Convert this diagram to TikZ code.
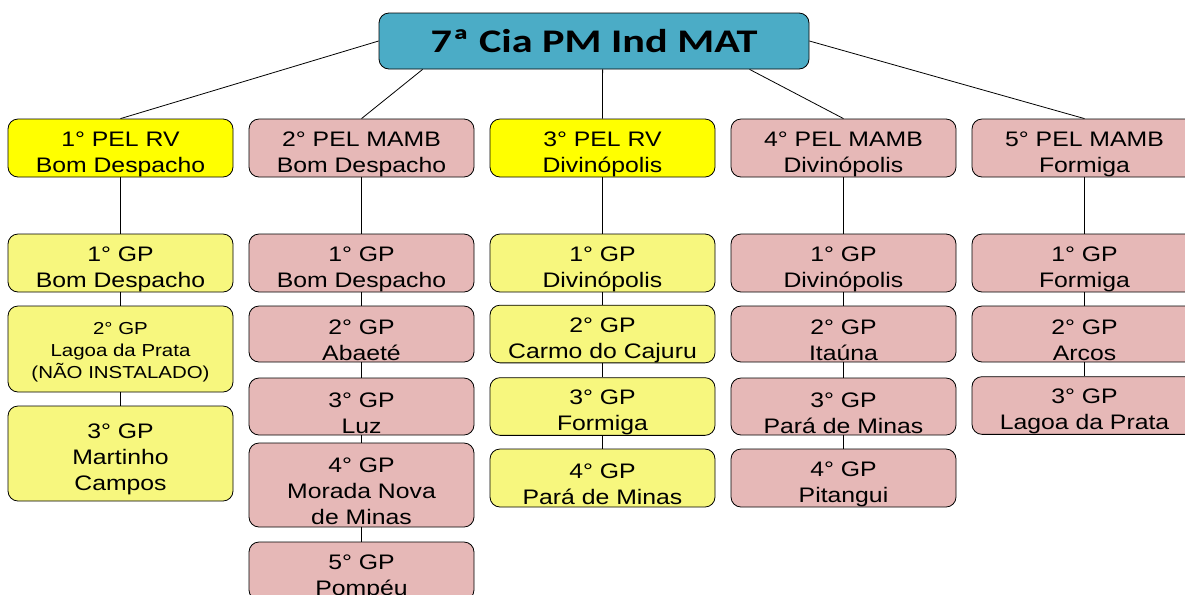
\documentclass[tikz,border=0pt]{standalone}
\usepackage{fontspec}
\usetikzlibrary{calc}
\newfontfamily\arialf[FakeStretch=1.18]{Liberation Sans}
\newfontfamily\titlef[FakeStretch=1.28]{Carlito}
\definecolor{titlec}{HTML}{4BACC6}
\definecolor{pelyel}{HTML}{FFFF00}
\definecolor{gpyel}{HTML}{F7F77E}
\definecolor{pinkc}{HTML}{E6B8B7}
\newcommand\tf{\rule{0pt}{20.5pt}}
\newcommand\tfs{\rule{0pt}{13.5pt}}
\tikzset{
  base/.style={draw=black, line width=0.6pt, rounded corners=7.5pt, minimum width=168.75pt,
    inner sep=0pt, align=center, font=\arialf\fontsize{15.75}{19.5}\selectfont},
  yel/.style={base, fill=pelyel},
  lyel/.style={base, fill=gpyel},
  pnk/.style={base, fill=pinkc},
  small/.style={font=\arialf\fontsize{13}{16.5}\selectfont},
  titlebox/.style={base, fill=titlec, minimum width=322.5pt, minimum height=42pt,
    font=\titlef\bfseries\fontsize{24.75}{28}\selectfont},
  conn/.style={draw=black, line width=0.6pt},
}
\begin{document}
\begin{tikzpicture}[x=0.75pt,y=-0.75pt]
\useasboundingbox (0,0) rectangle (1185,594);
\clip (0,0) rectangle (1185,594);
% top
\node[titlebox] (top) at (594,41) {7ª Cia PM Ind MAT};
% column 1
\node[yel, minimum height=43.5pt] (p1) at (120.5,148) {\tf 1° PEL RV\\Bom Despacho};
\node[lyel, minimum height=43.5pt] (c1g1) at (120.5,263) {\tf 1° GP\\Bom Despacho};
\node[lyel, small, minimum height=64.5pt] (c1g2) at (120.5,349) {\tfs 2° GP\\Lagoa da Prata\\(NÃO INSTALADO)};
\node[lyel, minimum height=71.25pt] (c1g3) at (120.5,453.5) {\tf 3° GP\\Martinho\\Campos};
% column 2
\node[pnk, minimum height=43.5pt] (p2) at (361.5,148) {\tf 2° PEL MAMB\\Bom Despacho};
\node[pnk, minimum height=43.5pt] (c2g1) at (361.5,263) {\tf 1° GP\\Bom Despacho};
\node[pnk, minimum height=42pt] (c2g2) at (361.5,334) {\tf 2° GP\\Abaeté};
\node[pnk, minimum height=42.75pt] (c2g3) at (361.5,406.5) {\tf 3° GP\\Luz};
\node[pnk, minimum height=63pt] (c2g4) at (361.5,485) {\tf 4° GP\\Morada Nova\\de Minas};
\node[pnk, minimum height=43.5pt] (c2g5) at (361.5,571) {\tf 5° GP\\Pompéu};
% column 3
\node[yel, minimum height=43.5pt] (p3) at (602.5,148) {\tf 3° PEL RV\\Divinópolis};
\node[lyel, minimum height=43.5pt] (c3g1) at (602.5,263) {\tf 1° GP\\Divinópolis};
\node[lyel, minimum height=42pt] (c3g2) at (602.5,334) {\tf 2° GP\\Carmo do Cajuru};
\node[lyel, minimum height=42.75pt] (c3g3) at (602.5,406.5) {\tf 3° GP\\Formiga};
\node[lyel, minimum height=43.5pt] (c3g4) at (602.5,478) {\tf 4° GP\\Pará de Minas};
% column 4
\node[pnk, minimum height=43.5pt] (p4) at (843.5,148) {\tf 4° PEL MAMB\\Divinópolis};
\node[pnk, minimum height=43.5pt] (c4g1) at (843.5,263) {\tf 1° GP\\Divinópolis};
\node[pnk, minimum height=42pt] (c4g2) at (843.5,334) {\tf 2° GP\\Itaúna};
\node[pnk, minimum height=42.75pt] (c4g3) at (843.5,406.5) {\tf 3° GP\\Pará de Minas};
\node[pnk, minimum height=43.5pt] (c4g4) at (843.5,478) {\tf 4° GP\\Pitangui};
% column 5
\node[pnk, minimum height=43.5pt] (p5) at (1084.5,148) {\tf 5° PEL MAMB\\Formiga};
\node[pnk, minimum height=43.5pt] (c5g1) at (1084.5,263) {\tf 1° GP\\Formiga};
\node[pnk, minimum height=42pt] (c5g2) at (1084.5,334) {\tf 2° GP\\Arcos};
\node[pnk, minimum height=42pt] (c5g3) at (1084.5,405.5) {\tf 3° GP\\Lagoa da Prata};
% connectors from top
\draw[conn] (top.west) -- (p1.north);
\draw[conn] ($(top.south west)+(44,0)$) -- (p2.north);
\draw[conn] ($(top.south west)+(224,0)$) -- (p3.north);
\draw[conn] ($(top.south west)+(371,0)$) -- (p4.north);
\draw[conn] (top.east) -- (p5.north);
% vertical connectors
\draw[conn] (p1) -- (c1g1); \draw[conn] (c1g1) -- (c1g2); \draw[conn] (c1g2) -- (c1g3);
\draw[conn] (p2) -- (c2g1); \draw[conn] (c2g1) -- (c2g2); \draw[conn] (c2g2) -- (c2g3); \draw[conn] (c2g3) -- (c2g4); \draw[conn] (c2g4) -- (c2g5);
\draw[conn] (p3) -- (c3g1); \draw[conn] (c3g1) -- (c3g2); \draw[conn] (c3g2) -- (c3g3); \draw[conn] (c3g3) -- (c3g4);
\draw[conn] (p4) -- (c4g1); \draw[conn] (c4g1) -- (c4g2); \draw[conn] (c4g2) -- (c4g3); \draw[conn] (c4g3) -- (c4g4);
\draw[conn] (p5) -- (c5g1); \draw[conn] (c5g1) -- (c5g2); \draw[conn] (c5g2) -- (c5g3);
\end{tikzpicture}
\end{document}
